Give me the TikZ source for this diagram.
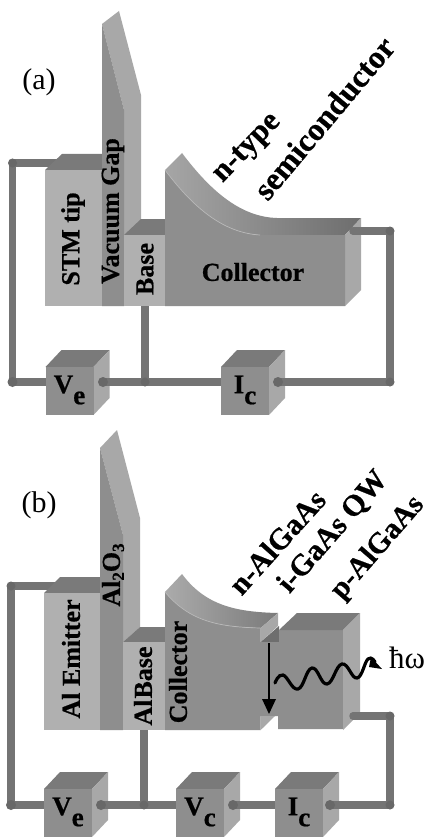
\documentclass[tikz,border=0pt]{standalone}
\usepackage{fontspec}
\setmainfont{Liberation Serif}[BoldFeatures={FakeBold=0.6}]
\definecolor{lightf}{HTML}{B0B0B0}
\definecolor{midf}{HTML}{8E8E8E}
\definecolor{sidef}{HTML}{A8A8A8}
\definecolor{topf}{HTML}{7A7A7A}
\definecolor{wirec}{HTML}{747474}
\definecolor{dotc}{HTML}{686868}
\newcommand{\fs}[1]{\fontsize{#1}{#1}\selectfont}
\newcommand{\cubebox}[5]{% name, x, y, text, sub
  \fill[topf] (#2,#3) -- ++(16,-17) -- ++(48,0) -- ++(-16,17) -- cycle;
  \fill[sidef] (#2+48,#3) -- ++(16,-17) -- ++(0,48) -- ++(-16,17) -- cycle;
  \fill[midf] (#2,#3) rectangle ++(48,48);
  \node[boxlabel] (#1) at (#2+24,#3+23) {#4\raisebox{-11pt}{#5}};
}
\tikzset{
  wire/.style={draw=wirec,line width=7.5pt,line cap=round,line join=round},
  junction/.style={fill=dotc},
  boxlabel/.style={inner sep=0pt,font=\fs{27}\bfseries},
  layerlabel/.style={inner sep=0pt,font=\fs{26}\bfseries},
  slantlabel/.style={inner sep=0pt,font=\fs{30}\bfseries},
  panellabel/.style={inner sep=0pt,font=\fs{30}},
  photon/.style={draw=black,line width=3.2pt,line cap=round},
}
\begin{document}
\begin{tikzpicture}[x=1pt,y=-1pt]
\useasboundingbox (0,0) rectangle (427,837);
\fill[white] (0,0) rectangle (427,837);

%%%%%%%%%%%%%%%% panel (a)
\coordinate (aTL) at (12.5,163);
\coordinate (aBL) at (12.5,382);
\coordinate (aTS) at (60,163);
\coordinate (aBJ) at (145,382);
\coordinate (aBT) at (145,306);
\coordinate (aBR) at (390,382);
\coordinate (aTR) at (390,231);
\coordinate (aCS) at (353,231);
\coordinate (aVd) at (103,382);
\coordinate (aId) at (278,382);
\draw[wire] (aTS) -- (aTL) -- (aBL) -- (aBR) -- (aTR);
\draw[wire] (aBT) -- (aBJ);
% emitter
\fill[topf] (45,170) -- (62,154) -- (102,154) -- (102,170) -- cycle;
\fill[lightf] (45,170) rectangle (102,306);
% vacuum gap
\fill[sidef] (102,24) -- (119,11) -- (141,95) -- (141,222) -- (124,237) -- (124,110) -- cycle;
\fill[midf] (102,24) -- (124,110) -- (124,306) -- (102,306) -- cycle;
% base
\fill[topf] (124,235) -- (141,219) -- (165,219) -- (165,235) -- cycle;
\fill[lightf] (124,235) rectangle (165,306);
% collector
\shade[left color=black!35,middle color=black!48,right color=black!57]
  (165,170) -- (182,153) .. controls (212,193) and (242,217) .. (277,218)
  -- (361,218) -- (345,235) -- (260,235) .. controls (225,233) and (195,210) .. (165,170) -- cycle;
\fill[sidef] (345,235) -- (361,218) -- (361,290) -- (345,306) -- cycle;
\fill[midf] (165,170) .. controls (195,210) and (225,233) .. (260,235) -- (345,235) -- (345,306) -- (165,306) -- cycle;
\draw[black!28,line width=.7pt] (165,170) .. controls (195,210) and (225,233) .. (260,235);
\draw[wire] (aCS) -- (aTR);
\cubebox{aVe}{45.5}{367}{V}{e}
\cubebox{aIc}{221}{367}{I}{c}
\draw[wire] (aVd) -- (110,382);
\draw[wire] (aId) -- (285,382);
\fill[junction] (aVd) circle (5) (aId) circle (5) (aBJ) circle (4.5) (aBL) circle (5) (aTL) circle (4.5) (aBR) circle (4.5) (aTR) circle (4.5);
\node[panellabel] (alab) at (39,82) {(a)};
\node[layerlabel,rotate=90] (atip) at (73,239) {STM tip};
\node[layerlabel,rotate=90] (agap) at (113,211) {Vacuum Gap};
\node[layerlabel,rotate=90] (abase) at (145,269) {Base};
\node[layerlabel] (acol) at (253,272) {Collector};
\node[slantlabel,font=\fs{31}\bfseries,rotate=46] (anty) at (248,149) {n-type};
\node[slantlabel,font=\fs{32}\bfseries,rotate=50] (asem) at (324,118) {semiconductor};

%%%%%%%%%%%%%%%% panel (b)
\coordinate (bTL) at (11,586);
\coordinate (bBL) at (11,805);
\coordinate (bTS) at (60,586);
\coordinate (bBJ) at (144,805);
\coordinate (bBT) at (144,730);
\coordinate (bBR) at (390,805);
\coordinate (bTR) at (390,716);
\coordinate (bCS) at (353,716);
\coordinate (bVd) at (101,805);
\coordinate (bCd) at (233,805);
\coordinate (bId) at (330,805);
\draw[wire] (bTS) -- (bTL) -- (bBL) -- (bBR) -- (bTR);
\draw[wire] (bBT) -- (bBJ);
% emitter
\fill[topf] (44,593) -- (60,577) -- (100,577) -- (100,593) -- cycle;
\fill[lightf] (44,593) rectangle (100,730);
% oxide
\fill[sidef] (100,448) -- (117,430) -- (140,518) -- (140,627) -- (123,642) -- (123,535) -- cycle;
\fill[midf] (100,448) -- (123,535) -- (123,730) -- (100,730) -- cycle;
% base
\fill[topf] (123,642) -- (140,627) -- (165,627) -- (165,642) -- cycle;
\fill[lightf] (123,642) rectangle (165,730);
% collector layers
\shade[left color=black!33,right color=black!52]
  (165,592) -- (182,574) .. controls (205,605) and (235,612) .. (278,613)
  -- (260.7,628) .. controls (220,627) and (190,622) .. (165,592) -- cycle;
\fill[sidef] (260.7,628) -- (278,613) -- (278,626) -- (260.7,642) -- cycle;
\fill[topf!90!black] (260.7,642) -- (279,626) -- (279,642) -- cycle;
\fill[midf] (165,592) .. controls (190,622) and (220,627) .. (260.7,628) -- (260.7,642) -- (279,642) -- (279,630) -- (343,630) -- (343,729) -- (278,729) -- (278,716) -- (260.7,716) -- (260.7,730) -- (165,730) -- cycle;
\draw[black!28,line width=.7pt] (165,592) .. controls (190,622) and (220,627) .. (260.7,628);
\fill[sidef] (260.7,716) -- (275,716) -- (260.7,730) -- cycle;
% right block
\fill[topf] (279,630) -- (297,613) -- (360,613) -- (343,630) -- cycle;
\fill[sidef] (343,630) -- (360,613) -- (360,713) -- (343,730) -- cycle;
\draw[wire] (bCS) -- (bTR);
\cubebox{bVe}{44}{789}{V}{e}
\cubebox{bVc}{176}{789}{V}{c}
\cubebox{bIc}{275}{789}{I}{c}
\draw[wire] (bVd) -- (108,805);
\draw[wire] (bCd) -- (240,805);
\draw[wire] (bId) -- (339,805);
\fill[junction] (bVd) circle (5) (bCd) circle (5) (bId) circle (5) (bBJ) circle (4.5) (bBL) circle (5) (bTL) circle (4.5) (bBR) circle (4.5) (bTR) circle (4.5);
% transition arrow
\coordinate (arrS) at (269,643);
\coordinate (arrE) at (269,700);
\draw[black,line width=2.8pt] (arrS) -- (arrE);
\fill[black] (262,699) -- (276,699) -- (269,714) -- cycle;
% photon
\draw[photon] plot[smooth,tension=.75] coordinates {(275,683) (283,675) (298,689) (312,668) (327,684) (342,664) (357,678) (368,659) (375,662)};
\fill[black] (371,657) -- (382,669) -- (369,667) -- cycle;
\node[inner sep=0pt,font=\fs{31},anchor=base west] (bhw) at (389,668) {ħω};
\node[panellabel] (blab) at (39,505) {(b)};
\node[layerlabel,rotate=90] (bem) at (71,659) {Al Emitter};
\node[layerlabel,rotate=90] (box) at (113,575) {Al\raisebox{-4pt}{\fs{17}\bfseries 2}O\raisebox{-4pt}{\fs{17}\bfseries 3}};
\node[layerlabel,rotate=90] (bbas) at (143,686) {\spaceskip=1pt Al Base};
\node[layerlabel,rotate=90] (bcol) at (178,672) {Collector};
\node[slantlabel,rotate=48] (bn) at (277,542) {n-AlGaAs};
\node[slantlabel,rotate=49] (bi) at (333,532) {i-GaAs QW};
\node[slantlabel,font=\fs{29.5}\bfseries,rotate=49] (bp) at (378,548) {p-AlGaAs};
\end{tikzpicture}
\end{document}
